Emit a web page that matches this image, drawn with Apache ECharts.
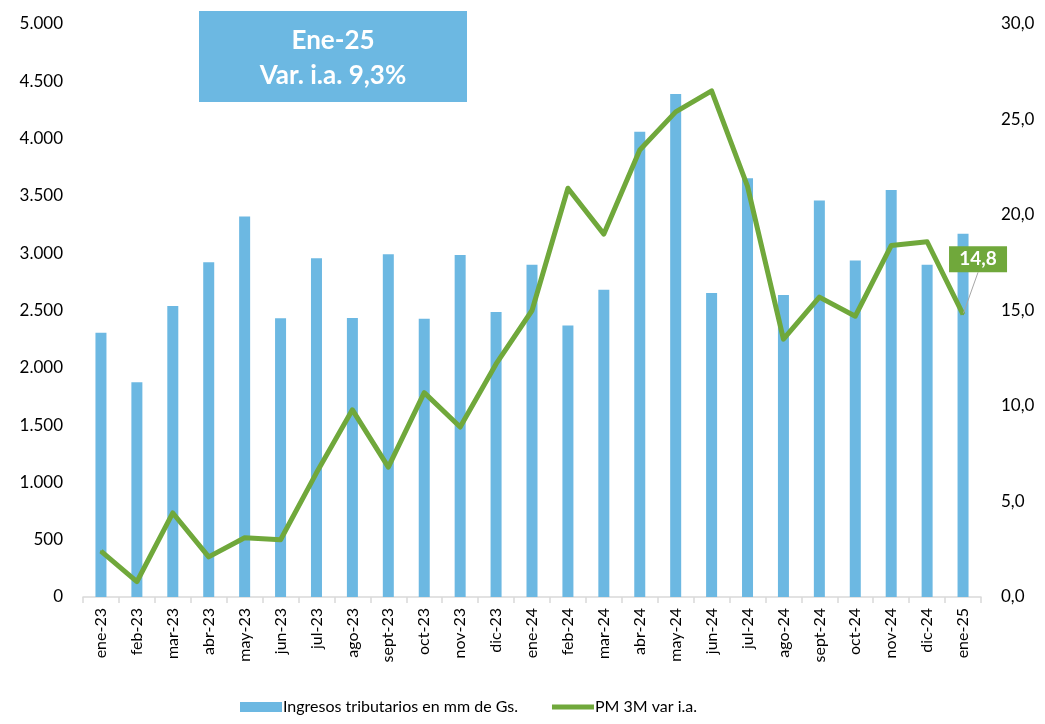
<!DOCTYPE html>
<html>
<head>
<meta charset="utf-8">
<script src="https://cdn.jsdelivr.net/npm/echarts@6/dist/echarts.min.js"></script>
<style>
  html, body { margin: 0; padding: 0; background: #fff; }
  #chart { width: 1045px; height: 724px; }
</style>
</head>
<body>
<div id="chart"></div>
<script>
// meses
const months = ['ene-23', 'feb-23', 'mar-23', 'abr-23', 'may-23', 'jun-23', 'jul-23', 'ago-23', 'sept-23', 'oct-23', 'nov-23', 'dic-23',
  'ene-24', 'feb-24', 'mar-24', 'abr-24', 'may-24', 'jun-24', 'jul-24', 'ago-24', 'sept-24', 'oct-24', 'nov-24', 'dic-24', 'ene-25'];
// ingresos tributarios (mm de Gs.)
const ingresos = [2305, 1875, 2540, 2922, 3320, 2432, 2955, 2435, 2990, 2428, 2985, 2488,
  2900, 2370, 2680, 4060, 4390, 2652, 3655, 2636, 3460, 2936, 3552, 2900, 3170];
// PM 3M var i.a. (%)
const pm3m = [2.4, 0.8, 4.4, 2.1, 3.1, 3.0, 6.5, 9.8, 6.8, 10.7, 8.9, 12.2,
  15.0, 21.4, 19.0, 23.4, 25.4, 26.5, 21.5, 13.5, 15.7, 14.7, 18.4, 18.6, 14.8];
const leftTicks = { min: 0, max: 5000, interval: 500 };
const rightTicks = { min: 0, max: 30, interval: 5 };

const FONT = 'Lato';
const GREEN = '#70A83B';
const BLUE = '#6CB8E2';
const chart = echarts.init(document.getElementById('chart'));

// solo el ultimo punto lleva etiqueta
const lineData = pm3m.map((v, i) => {
  if (i !== pm3m.length - 1) return v;
  return {
    value: v,
    label: {
      show: true,
      position: 'inside',
      formatter: (p) => p.value.toFixed(1).replace('.', ','),
      color: '#fff',
      fontWeight: 'bold',
      fontSize: 19,
      fontFamily: FONT,
      backgroundColor: GREEN,
      width: 42,
      align: 'center',
      padding: [4, 8, 3, 8]
    },
    labelLine: { show: true, lineStyle: { color: '#a6a6a6', width: 1 } }
  };
});

const option = {
  animation: false,
  backgroundColor: '#fff',
  textStyle: { fontFamily: FONT },
  grid: { left: 83, right: 64, top: 24, bottom: 127 },
  legend: {
    left: 235,
    bottom: 4,
    itemGap: 34,
    itemWidth: 42,
    itemHeight: 10,
    textStyle: { fontFamily: FONT, fontSize: 16, color: '#000', padding: [0, 0, 0, -4] },
    data: [
      { name: 'Ingresos tributarios en mm de Gs.', icon: 'rect' },
      { name: 'PM 3M var i.a.', icon: 'path://M0,2.5 L42,2.5 L42,7.5 L0,7.5 Z' }
    ]
  },
  xAxis: {
    type: 'category',
    data: months,
    boundaryGap: true,
    axisLine: { lineStyle: { color: '#d9d9d9', width: 1.5 } },
    axisTick: { show: true, alignWithLabel: false, length: 6, lineStyle: { color: '#d9d9d9', width: 1.5 } },
    axisLabel: { rotate: 90, interval: 0, fontFamily: FONT, fontSize: 16, color: '#000', margin: 11 }
  },
  yAxis: [
    {
      type: 'value',
      min: leftTicks.min, max: leftTicks.max, interval: leftTicks.interval,
      splitLine: { show: false },
      axisLine: { show: false },
      axisTick: { show: false },
      axisLabel: {
        fontFamily: FONT, fontSize: 17, color: '#000', margin: 20,
        formatter: (v) => v.toString().replace(/\B(?=(\d{3})+(?!\d))/g, '.')
      }
    },
    {
      type: 'value',
      min: rightTicks.min, max: rightTicks.max, interval: rightTicks.interval,
      splitLine: { show: false },
      axisLine: { show: false },
      axisTick: { show: false },
      axisLabel: {
        fontFamily: FONT, fontSize: 17, color: '#000', margin: 20,
        formatter: (v) => v.toFixed(1).replace('.', ',')
      }
    }
  ],
  series: [
    {
      name: 'Ingresos tributarios en mm de Gs.',
      type: 'bar',
      yAxisIndex: 0,
      barWidth: 11,
      itemStyle: { color: BLUE },
      data: ingresos
    },
    {
      name: 'PM 3M var i.a.',
      type: 'line',
      yAxisIndex: 1,
      showSymbol: true,
      symbol: 'circle',
      symbolSize: 2,
      lineStyle: { color: GREEN, width: 5, join: 'round' },
      itemStyle: { color: GREEN },
      labelLayout: (params) => params.dataIndex === pm3m.length - 1 ? { dx: 15, dy: -55 } : {},
      data: lineData
    }
  ],
  graphic: [
    {
      type: 'group',
      left: 199,
      top: 11,
      children: [
        { type: 'rect', shape: { x: 0, y: 0, width: 268, height: 91 }, style: { fill: BLUE } },
        {
          type: 'text', x: 134, y: 30,
          style: { text: 'Ene-25', fill: '#fff', font: 'bold 26px Lato', align: 'center', verticalAlign: 'middle' }
        },
        {
          type: 'text', x: 134, y: 65,
          style: { text: 'Var. i.a. 9,3%', fill: '#fff', font: 'bold 26px Lato', align: 'center', verticalAlign: 'middle' }
        }
      ]
    }
  ]
};

chart.setOption(option);
</script>
</body>
</html>
